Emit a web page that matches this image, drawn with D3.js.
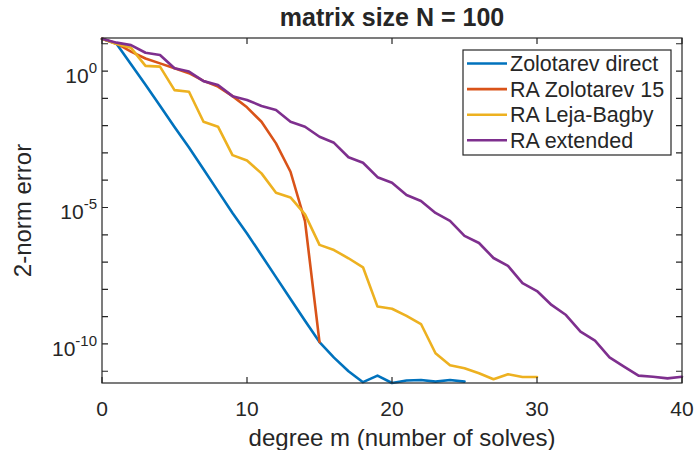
<!DOCTYPE html>
<html>
<head>
<meta charset="utf-8">
<style>
  body { margin: 0; background: #fff; }
  svg text { font-family: "Liberation Sans", Arial, sans-serif; fill: #262626; }
  .series { fill: none; stroke-width: 2.6px; stroke-linejoin: round; stroke-linecap: round; }
</style>
</head>
<body>
<svg width="697" height="450"></svg>
<script src="https://cdn.jsdelivr.net/npm/d3@7"></script>
<script>
// errors given as log10 values, index = degree m
var zolDirect = [1.18, 1.0, 0.25, -0.5, -1.27, -2.05, -2.8, -3.6, -4.4, -5.2, -5.95, -6.75, -7.55,
  -8.35, -9.15, -9.93, -10.5, -11.0, -11.4, -11.16, -11.43, -11.34, -11.32, -11.38, -11.32, -11.38];
var raZol15 = [1.18, 1.01, 0.71, 0.46, 0.28, 0.1, -0.08, -0.36, -0.57, -0.92, -1.33, -1.86, -2.65,
  -3.69, -5.5, -9.93];
var raLejaBagby = [1.18, 0.99, 0.85, 0.19, 0.16, -0.7, -0.76, -1.86, -2.04, -3.08, -3.28, -3.75, -4.46,
  -4.63, -5.25, -6.37, -6.56, -6.86, -7.19, -8.63, -8.71, -8.97, -9.27, -10.34, -10.78, -10.89,
  -11.07, -11.29, -11.11, -11.21, -11.21];
var raExtended = [1.18, 1.04, 0.95, 0.67, 0.59, 0.1, -0.02, -0.37, -0.51, -0.92, -1.06, -1.28, -1.43,
  -1.86, -2.04, -2.41, -2.63, -3.16, -3.36, -3.89, -4.09, -4.54, -4.76, -5.2, -5.49, -6.04, -6.3,
  -6.85, -7.14, -7.77, -8.06, -8.57, -8.94, -9.55, -9.88, -10.49, -10.83, -11.16, -11.2, -11.26, -11.2];

var seriesNames = ["Zolotarev direct", "RA Zolotarev 15", "RA Leja-Bagby", "RA extended"];
var seriesColors = ["#0072BD", "#D95319", "#EDB120", "#7E2F8E"];
var allSeries = [zolDirect, raZol15, raLejaBagby, raExtended];

var xTicks = [0, 10, 20, 30, 40];
var yTickExps = [0, -5, -10];

var svg = d3.select("svg");
var plotLeft = 102, plotRight = 682, plotTop = 38, plotBottom = 383;

var x = d3.scaleLinear().domain([0, 40]).range([plotLeft, plotRight]);
var y = d3.scaleLog().domain([Math.pow(10, -11.43), Math.pow(10, 1.21)]).range([plotBottom, plotTop]);

var line = d3.line()
  .x(function(d, i) { return x(i); })
  .y(function(d) { return y(Math.pow(10, d)); });

svg.append("g").selectAll("path")
  .data(allSeries)
  .enter().append("path")
    .attr("class", "series")
    .attr("stroke", function(d, i) { return seriesColors[i]; })
    .attr("d", line);

// axes box
var axisColor = "#262626";
var tickLen = 6;
var minorExps = d3.range(-11, 2);

var axes = svg.append("g");
axes.append("rect")
  .attr("x", plotLeft).attr("y", plotTop)
  .attr("width", plotRight - plotLeft).attr("height", plotBottom - plotTop)
  .attr("fill", "none").attr("stroke", axisColor).attr("stroke-width", 1.2);

axes.selectAll(".xt")
  .data(xTicks)
  .enter().append("path")
    .attr("stroke", axisColor).attr("stroke-width", 1.2)
    .attr("d", function(d) {
      var px = x(d);
      return "M" + px + "," + plotBottom + "v" + (-tickLen) + "M" + px + "," + plotTop + "v" + tickLen;
    });

axes.selectAll(".yt")
  .data(minorExps)
  .enter().append("path")
    .attr("stroke", axisColor).attr("stroke-width", 1.2)
    .attr("d", function(d) {
      var py = y(Math.pow(10, d));
      return "M" + plotLeft + "," + py + "h" + tickLen + "M" + plotRight + "," + py + "h" + (-tickLen);
    });

svg.append("g").selectAll("text")
  .data(xTicks)
  .enter().append("text")
    .attr("x", function(d) { return x(d); })
    .attr("y", 416)
    .attr("text-anchor", "middle")
    .attr("font-size", 21)
    .text(function(d) { return d; });

var yl = svg.append("g").selectAll("text")
  .data(yTickExps)
  .enter().append("text")
    .attr("x", 97)
    .attr("y", function(d) { return y(Math.pow(10, d)) + 12; })
    .attr("text-anchor", "end")
    .attr("font-size", 21);
yl.append("tspan").text("10");
yl.append("tspan")
  .attr("dy", -10)
  .attr("font-size", 15)
  .text(function(d) { return d; });

svg.append("text")
  .attr("x", 402).attr("y", 446)
  .attr("text-anchor", "middle")
  .attr("font-size", 24)
  .text("degree m (number of solves)");

svg.append("text")
  .attr("transform", "translate(31," + ((plotTop + plotBottom) / 2) + ") rotate(-90)")
  .attr("text-anchor", "middle")
  .attr("font-size", 24)
  .text("2-norm error");

svg.append("text")
  .attr("x", (plotLeft + plotRight) / 2).attr("y", 26)
  .attr("text-anchor", "middle")
  .attr("font-size", 25)
  .attr("font-weight", "bold")
  .attr("fill", "#000")
  .text("matrix size N = 100");

// legend
var legend = svg.append("g");
legend.append("rect")
  .attr("x", 463).attr("y", 50).attr("width", 208).attr("height", 105)
  .attr("fill", "#fff").attr("stroke", axisColor).attr("stroke-width", 1.2);

var rows = legend.selectAll("g.row")
  .data(seriesNames)
  .enter().append("g")
    .attr("transform", function(d, i) { return "translate(0," + (63.5 + i * 25.6) + ")"; });
rows.append("line")
  .attr("x1", 467).attr("x2", 507).attr("y1", 0).attr("y2", 0)
  .attr("stroke", function(d, i) { return seriesColors[i]; })
  .attr("stroke-width", 2.6);
rows.append("text")
  .attr("x", 510).attr("y", 7.5)
  .attr("font-size", 21.5)
  .attr("fill", "#000")
  .text(function(d) { return d; });
</script>
</body>
</html>
